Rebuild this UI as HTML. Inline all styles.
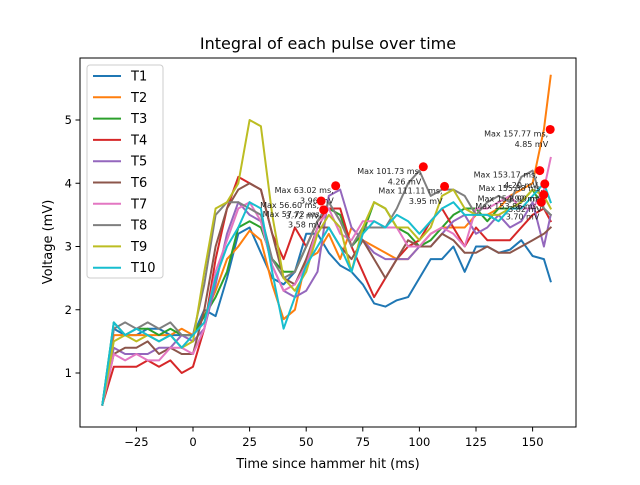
<!DOCTYPE html>
<html><head><meta charset="utf-8"><style>
body{margin:0;background:#fff}
svg{font-family:"DejaVu Sans","Liberation Sans",sans-serif}
</style></head><body>
<svg id="chart" width="640" height="480" viewBox="0 0 640 480" xmlns="http://www.w3.org/2000/svg">
<rect width="640" height="480" fill="#fff"/>
<text x="328" y="49" font-size="16" text-anchor="middle">Integral of each pulse over time</text>
<text x="328" y="468" font-size="13" text-anchor="middle">Time since hammer hit (ms)</text>
<text transform="translate(52,242) rotate(-90)" font-size="13" text-anchor="middle">Voltage (mV)</text>
<g id="series"></g>
<g id="ann"></g>
<g id="axes"></g>
<g id="legend"></g>
</svg>
<script>
const times=[-40,-35,-30,-25,-20,-15,-10,-5,0,5,10,15,20,25,30,35,40,45,50,55,60,65,70,75,80,85,90,95,100,105,110,115,120,125,130,135,140,145,150,155,158];
const seriesNames=["T1","T2","T3","T4","T5","T6","T7","T8","T9","T10"];
const T1=[0.5,1.7,1.6,1.6,1.7,1.7,1.6,1.6,1.6,2.0,1.9,2.5,3.2,3.3,2.9,2.5,2.4,2.6,3.2,3.2,2.9,2.7,2.6,2.4,2.1,2.05,2.15,2.2,2.5,2.8,2.8,3.0,2.6,3.0,3.0,2.9,2.95,3.1,2.85,2.8,2.45];
const T2=[0.5,1.6,1.6,1.6,1.6,1.6,1.6,1.7,1.6,1.9,2.3,2.8,3.0,3.25,3.1,2.4,1.85,2.0,2.8,2.9,3.2,2.8,3.3,3.1,3.0,2.9,2.8,2.8,3.0,3.2,3.3,3.3,3.3,3.5,3.5,3.6,3.8,3.9,4.0,4.85,5.7];
const T3=[0.5,1.8,1.6,1.7,1.7,1.6,1.7,1.6,1.6,1.9,2.2,2.6,3.3,3.4,3.3,2.8,2.6,2.6,3.0,3.4,3.6,3.5,3.0,3.2,3.7,3.6,3.3,3.2,3.0,3.1,3.3,3.5,3.6,3.6,3.4,3.6,3.6,3.7,3.9,3.6,3.5];
const T4=[0.5,1.1,1.1,1.1,1.2,1.1,1.2,1.0,1.1,1.7,2.8,3.6,4.1,4.0,3.9,3.2,2.8,3.3,3.0,3.4,3.6,3.6,3.0,2.6,2.2,2.5,2.8,3.0,3.1,3.4,3.6,3.3,3.0,3.3,3.1,3.1,3.1,3.3,3.5,3.6,3.4];
const T5=[0.5,1.4,1.3,1.3,1.3,1.4,1.4,1.6,1.5,1.7,2.4,3.2,3.7,3.5,3.4,2.7,2.3,2.2,2.3,2.6,3.8,3.9,3.3,3.1,2.9,2.8,2.8,2.8,3.0,3.0,3.2,3.4,3.5,3.2,3.3,3.5,3.3,3.4,3.7,3.0,3.5];
const T6=[0.5,1.3,1.4,1.4,1.5,1.3,1.4,1.3,1.3,2.0,3.0,3.6,3.9,4.0,3.9,3.2,2.5,2.4,2.8,3.3,3.3,3.0,2.8,3.1,2.8,2.5,2.8,3.1,3.0,3.0,3.2,3.1,2.9,2.9,3.0,2.9,2.9,3.0,3.1,3.2,3.3];
const T7=[0.5,1.3,1.2,1.3,1.2,1.2,1.4,1.4,1.3,1.7,2.6,3.1,3.6,3.7,3.4,2.7,2.3,2.4,2.7,3.3,3.6,3.2,3.1,3.4,3.4,3.3,3.3,3.0,3.0,3.2,3.3,3.2,3.0,3.6,3.6,3.7,3.8,3.6,3.6,3.9,4.4];
const T8=[0.5,1.7,1.8,1.7,1.8,1.7,1.8,1.6,1.6,2.4,3.5,3.7,3.7,3.6,3.5,2.8,2.5,2.6,3.0,3.4,3.7,3.4,3.0,3.3,3.3,3.3,3.6,4.0,4.2,3.8,3.9,3.9,3.8,3.5,3.7,3.8,3.7,4.1,4.2,3.6,3.5];
const T9=[0.5,1.5,1.6,1.5,1.6,1.5,1.6,1.4,1.5,2.6,3.6,3.7,4.0,5.0,4.9,3.5,2.5,2.3,2.6,3.2,3.5,3.3,2.6,3.3,3.7,3.6,3.3,3.3,3.1,3.3,3.8,3.9,3.6,3.5,3.5,3.5,3.6,3.7,3.9,3.8,3.6];
const T10=[0.5,1.8,1.6,1.7,1.6,1.5,1.6,1.4,1.6,1.8,2.5,3.0,3.3,3.7,3.6,2.6,1.7,2.2,2.7,3.0,3.3,3.0,2.6,3.2,3.4,3.3,3.5,3.4,3.2,3.4,3.6,3.7,3.5,3.5,3.5,3.4,3.6,3.6,3.8,4.0,3.7];
const maxTimes=[63.02,56.60,57.72,101.73,111.11,157.77,153.17,155.38,154.92,153.86];
const maxVals=[3.96,3.72,3.58,4.26,3.95,4.85,4.20,3.99,3.82,3.70];
const xTicks=[-25,0,25,50,75,100,125,150];
const yTicks=[1,2,3,4,5];
const allSeries=[T1,T2,T3,T4,T5,T6,T7,T8,T9,T10];
const colors=["#1f77b4","#ff7f0e","#2ca02c","#d62728","#9467bd","#8c564b","#e377c2","#7f7f7f","#bcbd22","#17becf"];
const NS="http://www.w3.org/2000/svg";
const L=80,R=576,T=58,B=427;
function xs(t){return 193+(t)*2.264;}
function ys(v){return 373-(v-1)*63.25;}
function mk(tag,attrs,parent){const e=document.createElementNS(NS,tag);for(const k in attrs)e.setAttribute(k,attrs[k]);parent.appendChild(e);return e;}
const sg=document.getElementById('series');
allSeries.forEach((s,i)=>{
  const d=s.map((v,j)=>(j?'L':'M')+xs(times[j]).toFixed(1)+','+ys(v).toFixed(1)).join(' ');
  const p=mk('path',{d:d,fill:'none',stroke:colors[i],'stroke-width':2,'stroke-linejoin':'round','stroke-linecap':'square'},sg);
  
  
});
const ag=document.getElementById('ann');
maxTimes.forEach((t,i)=>{
  const cx=xs(t),cy=ys(maxVals[i]);
  const c=mk('circle',{cx:cx,cy:cy,r:4.5,fill:'#ff0000'},ag);
  
  
  const tx=mk('text',{x:cx-2,y:cy+7,'font-size':8,'text-anchor':'end',fill:'#222'},ag);
  
  
  const a=mk('tspan',{x:cx-2,dy:0},tx);a.textContent='Max '+t.toFixed(2)+' ms,';
  const b=mk('tspan',{x:cx-2,dy:10.5},tx);b.textContent=maxVals[i].toFixed(2)+' mV';
});
const ax=document.getElementById('axes');
const fr=mk('rect',{x:L,y:T,width:R-L,height:B-T,fill:'none',stroke:'#000','stroke-width':1},ax);


xTicks.forEach(t=>{
  const x=xs(t);
  mk('line',{x1:x,x2:x,y1:B,y2:B+4.5,stroke:'#000'},ax);
  const tx=mk('text',{x:x,y:B+19,'font-size':11.5,'text-anchor':'middle'},ax);
  
  
  tx.textContent=t<0?'\u2212'+(-t):String(t);
});
yTicks.forEach(v=>{
  const y=ys(v);
  mk('line',{x1:L-4.5,x2:L,y1:y,y2:y,stroke:'#000'},ax);
  const tx=mk('text',{x:L-8,y:y+4,'font-size':11.5,'text-anchor':'end'},ax);
  
  
  tx.textContent=String(v);
});
const lg=document.getElementById('legend');
const box=mk('rect',{x:87,y:65,width:76,height:213,rx:3,fill:'#fff','fill-opacity':0.8,stroke:'#ccc'},lg);


seriesNames.forEach((n,i)=>{
  const y=76+i*21.3;
  const g=mk('g',{},lg);
  
  
  mk('line',{x1:93,x2:121,y1:y,y2:y,stroke:colors[i],'stroke-width':2},g);
  const tx=mk('text',{x:131,y:y+4.5,'font-size':13},g);
  tx.textContent=n;
});
</script>
</body></html>
